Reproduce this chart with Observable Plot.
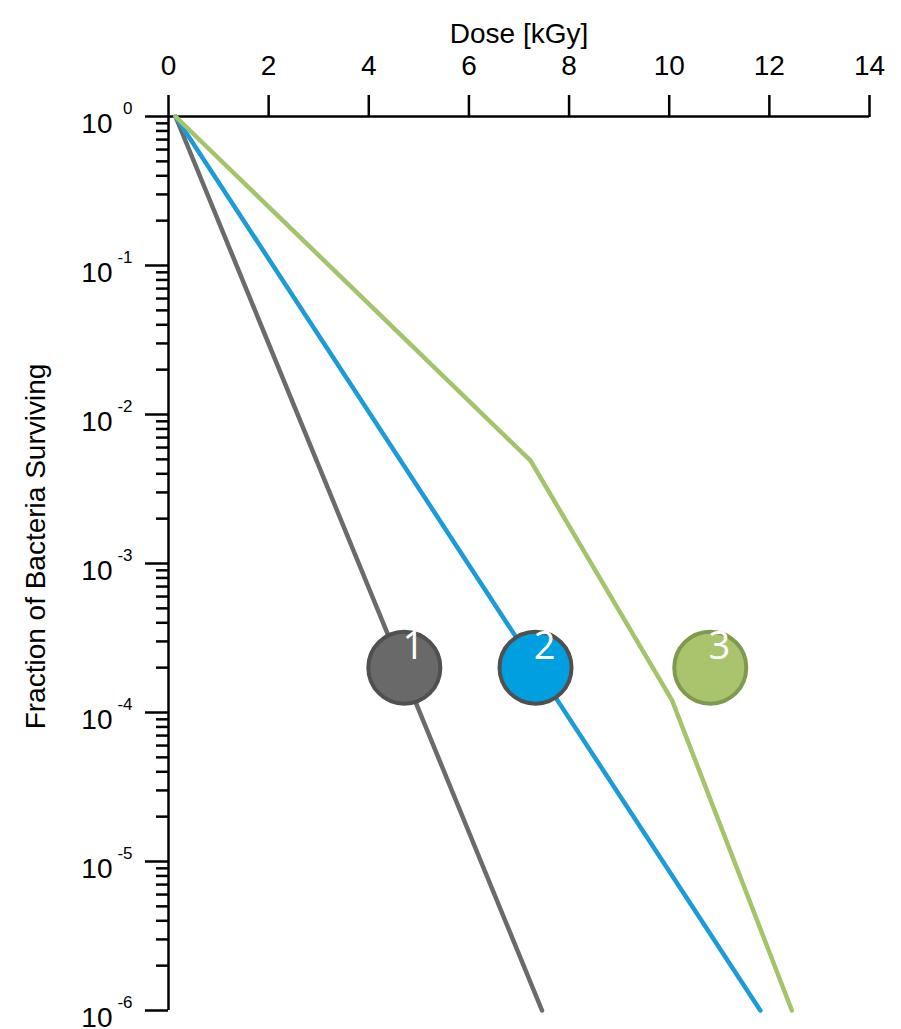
<!DOCTYPE html>
<html>
<head>
<meta charset="utf-8">
<script src="https://cdn.jsdelivr.net/npm/d3@7"></script>
<script src="https://cdn.jsdelivr.net/npm/@observablehq/plot@0.6"></script>
<style>
  html, body { margin: 0; padding: 0; background: #fff; }
  #chart svg { display: block; }
</style>
</head>
<body>
<div id="chart"></div>
<script>
// ---- data ----
const xTitle = "Dose [kGy]";
const yTitle = "Fraction of Bacteria Surviving";
const xTicks = [0, 2, 4, 6, 8, 10, 12, 14];
const yExponents = [0, -1, -2, -3, -4, -5, -6];
const minorMultipliers = [2, 3, 4, 5, 6, 7, 8, 9];

const series1Dose = [0.14, 7.46];
const series1Surv = [1, 1e-6];
const series2Dose = [0.14, 11.82];
const series2Surv = [1, 1e-6];
const series3Dose = [0.14, 7.23, 10.06, 12.45];
const series3Surv = [1, 4.9e-3, 1.2e-4, 1e-6];

const markerLabels = ["1", "2", "3"];
const markerDose = [4.71, 7.33, 10.82];
const markerSurv = [2e-4, 2e-4, 2e-4];
const markerFill = ["#696969", "#00a0e0", "#a9c46c"];
const markerStroke = ["#505050", "#505050", "#7f9a4f"];
const lineColors = ["#6b6b6b", "#1b9bd7", "#a4c46b"];

// ---- tables ----
const toRows = (xs, ys) => xs.map((x, i) => ({x, y: ys[i]}));
const lines = [
  toRows(series1Dose, series1Surv),
  toRows(series2Dose, series2Surv),
  toRows(series3Dose, series3Surv)
];
const markers = markerLabels.map((label, i) => ({
  label, x: markerDose[i], y: markerSurv[i], fill: markerFill[i], stroke: markerStroke[i]
}));
const majorY = yExponents.map(e => Math.pow(10, e));
const minorY = [];
for (const e of yExponents.slice(1)) for (const m of minorMultipliers) minorY.push(m * Math.pow(10, e));

const font = "Liberation Sans, Arial, sans-serif";
const AX = 2.5;

const plot = Plot.plot({
  width: 901,
  height: 1029,
  marginLeft: 168,
  marginRight: 32,
  marginTop: 116,
  marginBottom: 19,
  style: {fontFamily: font, background: "#fff", color: "#000"},
  x: {domain: [0, 14]},
  y: {type: "log", domain: [1e-6, 1]},
  marks: [
    // axes lines and ticks
    Plot.axisX({anchor: "top", ticks: xTicks, tickSize: 22, tickFormat: () => "", label: null, strokeWidth: AX}),
    Plot.axisY({anchor: "left", ticks: majorY, tickSize: 23, tickFormat: () => "", label: null, strokeWidth: AX}),
    Plot.axisY({anchor: "left", ticks: minorY, tickSize: 12, tickFormat: () => "", label: null, strokeWidth: AX}),
    Plot.ruleY([1], {stroke: "#000", strokeWidth: AX}),
    Plot.ruleX([0], {stroke: "#000", strokeWidth: AX}),
    // x tick labels
    Plot.text(xTicks, {x: d => d, y: () => 1, text: d => String(d), dy: -50, fontSize: 28, fontFamily: font, fill: "#000"}),
    // y tick labels: base and exponent
    Plot.text(yExponents, {x: () => 0, y: d => Math.pow(10, d), text: () => "10", textAnchor: "end", dx: -56, dy: 7.5, fontSize: 28, fontFamily: font, fill: "#000"}),
    Plot.text(yExponents, {x: () => 0, y: d => Math.pow(10, d), text: d => String(d), textAnchor: "end", dx: -36, dy: -8, fontSize: 17, fontFamily: font, fill: "#000"}),
    // titles
    Plot.text([xTitle], {frameAnchor: "top", dy: -93, fontSize: 28, fontFamily: font, fill: "#000"}),
    Plot.text([yTitle], {frameAnchor: "left", textAnchor: "middle", dx: -132, dy: -17, rotate: -90, fontSize: 28, fontFamily: font, fill: "#000"}),
    // survival curves
    ...lines.map((rows, i) => Plot.line(rows, {x: "x", y: "y", stroke: lineColors[i], strokeWidth: 4.5, strokeLinejoin: "round"})),
    // numbered markers
    Plot.dot(markers, {x: "x", y: "y", r: 36, fill: "fill", stroke: "stroke", strokeWidth: 4}),
    Plot.text(markers, {x: "x", y: "y", text: "label", dx: 9, dy: -21, fontSize: 38, fontWeight: 400, fontFamily: "Open Sans, Lato, sans-serif", fill: "#fff"})
  ]
});
document.getElementById("chart").appendChild(plot);
</script>
</body>
</html>
